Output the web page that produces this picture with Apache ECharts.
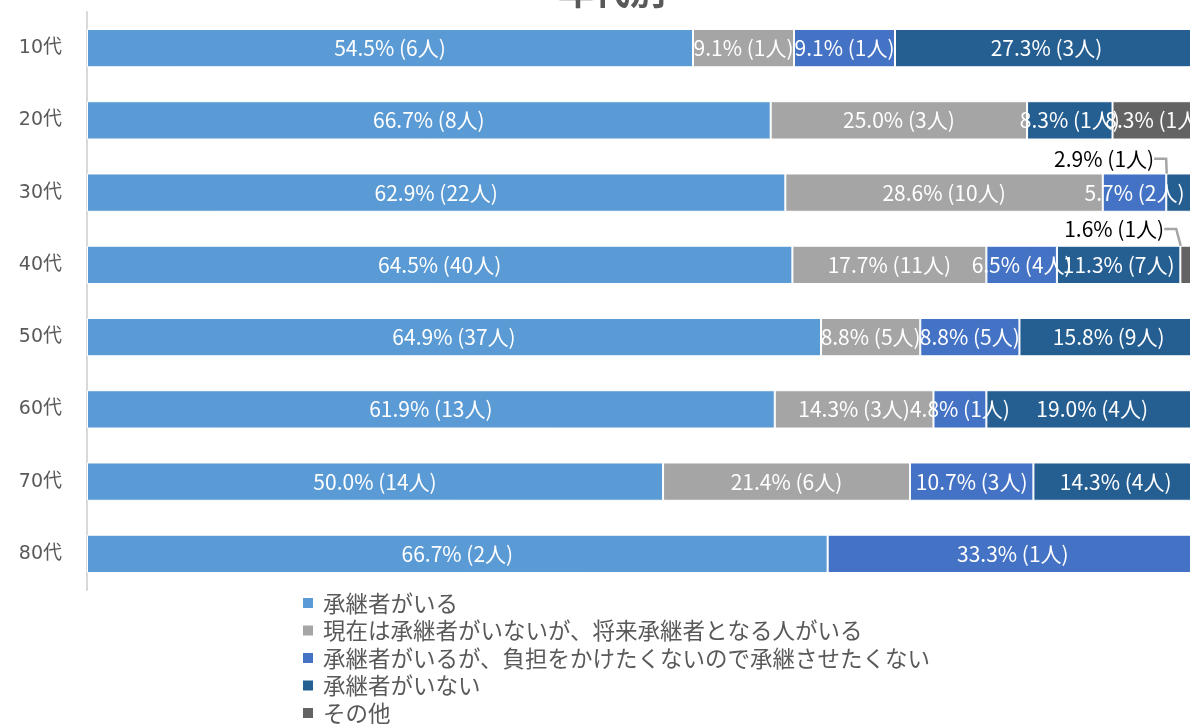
<!DOCTYPE html>
<html>
<head>
<meta charset="utf-8">
<script src="https://cdn.jsdelivr.net/npm/echarts@6/dist/echarts.min.js"></script>
<style>
html,body{margin:0;padding:0;background:#fff;overflow:hidden;}
#chart{width:1198px;height:780px;}
</style>
</head>
<body>
<div id="chart"></div>
<script>
const titleText = '年代別';
const categories = ['10代','20代','30代','40代','50代','60代','70代','80代'];
const seriesNames = [
  '承継者がいる',
  '現在は承継者がいないが、将来承継者となる人がいる',
  '承継者がいるが、負担をかけたくないので承継させたくない',
  '承継者がいない',
  'その他'
];
const colors = ['#5B9BD5','#A5A5A5','#4472C4','#255E91','#636363'];
// counts (人)
const counts1 = [6, 8, 22, 40, 37, 13, 14, 2];
const counts2 = [1, 3, 10, 11, 5, 3, 6, 0];
const counts3 = [1, 0, 2, 4, 5, 1, 3, 1];
const counts4 = [3, 1, 1, 7, 9, 4, 4, 0];
const counts5 = [0, 1, 0, 1, 0, 0, 0, 0];
// percentage labels as printed
const pct1 = ['54.5%','66.7%','62.9%','64.5%','64.9%','61.9%','50.0%','66.7%'];
const pct2 = ['9.1%','25.0%','28.6%','17.7%','8.8%','14.3%','21.4%',''];
const pct3 = ['9.1%','','5.7%','6.5%','8.8%','4.8%','10.7%','33.3%'];
const pct4 = ['27.3%','8.3%','2.9%','11.3%','15.8%','19.0%','14.3%',''];
const pct5 = ['','8.3%','','1.6%','','','',''];
// labels shown outside with a leader line: [seriesIndex, categoryIndex]
const calloutLabels = [[3, 2], [4, 3]];

const allCounts = [counts1, counts2, counts3, counts4, counts5];
const allPct = [pct1, pct2, pct3, pct4, pct5];
const totals = categories.map((c, i) => allCounts.reduce((s, a) => s + a[i], 0));

const font = '"Noto Sans CJK JP", "Noto Sans", sans-serif';
const calloutShift = [{ dx: -78, dy: -34 }, { dx: -75, dy: -36 }];

function calloutIndex(si, di) {
  return calloutLabels.findIndex(p => p[0] === si && p[1] === di);
}

const series = allCounts.map((arr, si) => ({
  name: seriesNames[si],
  type: 'bar',
  stack: 'total',
  barCategoryGap: '47%',
  itemStyle: { color: colors[si], borderColor: '#ffffff', borderWidth: 1 },
  label: {
    show: true,
    position: 'inside',
    color: '#ffffff',
    fontSize: 21,
    fontFamily: font,
    formatter: p => {
      const c = arr[p.dataIndex];
      if (!c) return '';
      return allPct[si][p.dataIndex] + ' (' + c + '人)';
    }
  },
  labelLine: { show: true, length2: 12, lineStyle: { color: '#A5A5A5', width: 2.5 }, smooth: false },
  labelLayout: p => {
    const k = calloutIndex(si, p.dataIndex);
    if (k >= 0) return calloutShift[k];
    return {};
  },
  data: arr.map((c, i) => {
    const item = { value: c / totals[i] * 100 };
    if (calloutIndex(si, i) >= 0) {
      item.label = { color: '#000000', padding: [0, 8, 0, 8] };
    } else {
      item.labelLine = { show: false };
    }
    return item;
  })
}));

const chart = echarts.init(document.getElementById('chart'));
chart.setOption({
  animation: false,
  backgroundColor: '#ffffff',
  color: colors,
  title: {
    text: titleText,
    left: 553,
    top: -32,
    textStyle: { fontSize: 36, fontWeight: 'bold', color: '#595959', fontFamily: font }
  },
  grid: { left: 87, top: 12, right: 0, height: 578, containLabel: false },
  xAxis: {
    type: 'value',
    min: 0,
    max: 100,
    show: false
  },
  yAxis: {
    type: 'category',
    data: categories,
    inverse: true,
    axisLine: { show: true, lineStyle: { color: '#D9D9D9', width: 2 } },
    axisTick: { show: false },
    axisLabel: { color: '#595959', fontSize: 19, margin: 25, fontFamily: '"DejaVu Sans", "Noto Sans CJK JP", sans-serif' }
  },
  legend: {
    orient: 'vertical',
    left: 303,
    top: 591,
    padding: 0,
    itemGap: 3.5,
    itemWidth: 10,
    itemHeight: 10,
    icon: 'rect',
    itemStyle: { borderWidth: 0 },
    textStyle: { color: '#595959', fontSize: 22.5, lineHeight: 24, fontFamily: font, padding: [0, 0, 0, 5] },
    data: seriesNames
  },
  series: series
});
</script>
</body>
</html>
